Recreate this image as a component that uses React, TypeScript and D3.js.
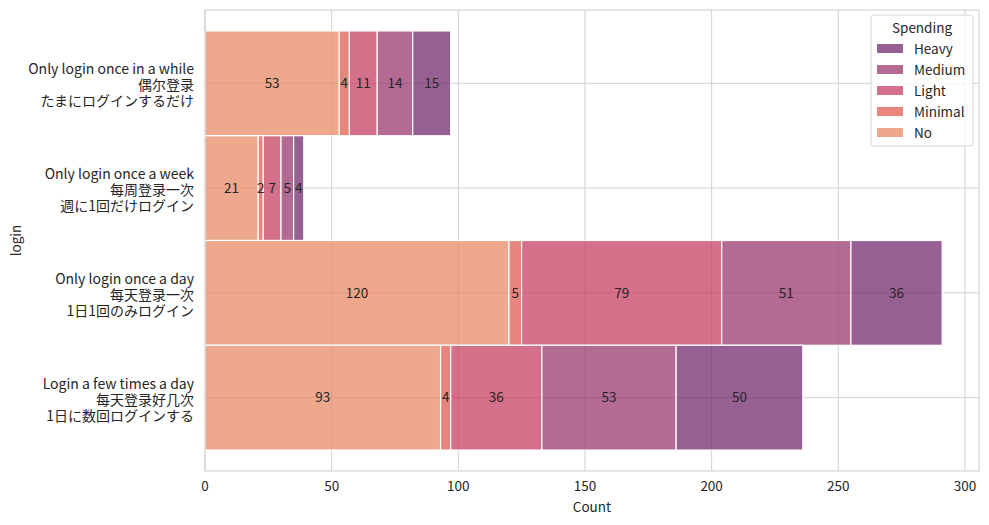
import React from "react";
import * as d3 from "d3";

const categories = [
  ["Only login once in a while", "偶尔登录", "たまにログインするだけ"],
  ["Only login once a week", "每周登录一次", "週に1回だけログイン"],
  ["Only login once a day", "每天登录一次", "1日1回のみログイン"],
  ["Login a few times a day", "每天登录好几次", "1日に数回ログインする"],
];
const stackOrder = ["No", "Minimal", "Light", "Medium", "Heavy"];
const legendOrder = ["Heavy", "Medium", "Light", "Minimal", "No"];
const noValues = [53, 21, 120, 93];
const minimalValues = [4, 2, 5, 4];
const lightValues = [11, 7, 79, 36];
const mediumValues = [14, 5, 51, 53];
const heavyValues = [15, 4, 36, 50];
const xTicks = [0, 50, 100, 150, 200, 250, 300];
const colors: Record<string, string> = {
  No: "#e78b68",
  Minimal: "#e05c50",
  Light: "#c64063",
  Medium: "#9a386f",
  Heavy: "#732b6f",
};

const seriesValues: Record<string, number[]> = {
  No: noValues,
  Minimal: minimalValues,
  Light: lightValues,
  Medium: mediumValues,
  Heavy: heavyValues,
};

const W = 989, H = 525;
const left = 205, right = 979, top = 10, bottom = 471;
const font = "'Noto Sans CJK JP', 'Noto Sans', sans-serif";

export default function App() {
  const totals = noValues.map((_, i) => stackOrder.reduce((s, k) => s + seriesValues[k][i], 0));
  const maxT = d3.max(totals) as number;
  const x = d3.scaleLinear().domain([0, maxT * 1.05]).range([left, right]);
  const y = d3.scaleLinear().domain([-0.7, 3.7]).range([top, bottom]);
  const rows = categories.map((_, i) => {
    let acc = 0;
    return stackOrder.map((k) => {
      const v = seriesValues[k][i];
      const seg = { k, v, x0: acc, x1: acc + v };
      acc += v;
      return seg;
    });
  });
  return (
    <svg width={W} height={H} style={{ display: "block", position: "absolute", left: 0, top: 0 }} fontFamily={font}>
      <rect x={0} y={0} width={W} height={H} fill="#fff" />
      {xTicks.map((t) => (
        <line key={"gx" + t} x1={x(t)} x2={x(t)} y1={top} y2={bottom} stroke="#cccccc" strokeWidth={0.9} />
      ))}
      {categories.map((_, i) => (
        <line key={"gy" + i} x1={left} x2={right} y1={y(i)} y2={y(i)} stroke="#cccccc" strokeWidth={0.9} />
      ))}
      {rows.map((segs, i) =>
        segs.map((s) => (
          <rect
            key={i + s.k}
            x={x(s.x0)}
            y={y(i - 0.5)}
            width={x(s.x1) - x(s.x0)}
            height={y(i + 0.5) - y(i - 0.5)}
            fill={colors[s.k]}
            fillOpacity={0.75}
            stroke="#fff"
            strokeWidth={1.2}
          />
        ))
      )}
      {rows.map((segs, i) =>
        segs.map((s) => (
          <text key={"l" + i + s.k} x={x((s.x0 + s.x1) / 2)} y={y(i)} dy="0.35em" textAnchor="middle" fontSize={13.5} fill="#262626">
            {s.v}
          </text>
        ))
      )}
      <rect x={left} y={top} width={right - left} height={bottom - top} fill="none" stroke="#cccccc" strokeWidth={1} />
      {xTicks.map((t) => (
        <text key={"tx" + t} x={x(t)} y={bottom + 20} textAnchor="middle" fontSize={13.5} fill="#262626">
          {t}
        </text>
      ))}
      {categories.map((lines, i) => (
        <text key={"ty" + i} x={left - 11} y={y(i)} textAnchor="end" fontSize={14} fill="#262626">
          {lines.map((ln, j) => (
            <tspan key={j} x={left - 11} y={y(i) + 2 + (j - 1) * 16} dy="0.35em">
              {ln}
            </tspan>
          ))}
        </text>
      ))}
      <text x={(left + right) / 2} y={bottom + 41} textAnchor="middle" fontSize={13.5} fill="#262626">
        Count
      </text>
      <text transform={`translate(21, ${(top + bottom) / 2}) rotate(-90)`} textAnchor="middle" fontSize={13.5} fill="#262626">
        login
      </text>
      <g>
        <rect x={871} y={15} width={102} height={131} rx={3} fill="#fff" fillOpacity={0.8} stroke="#d6d6d6" />
        <text x={922} y={33} textAnchor="middle" fontSize={13.5} fill="#262626">Spending</text>
        {legendOrder.map((k, j) => (
          <g key={k}>
            <rect x={877} y={44 + j * 21} width={26} height={9} fill={colors[k]} fillOpacity={0.75} />
            <text x={914} y={49 + j * 21} dy="0.35em" fontSize={13.5} fill="#262626">{k}</text>
          </g>
        ))}
      </g>
    </svg>
  );
}
